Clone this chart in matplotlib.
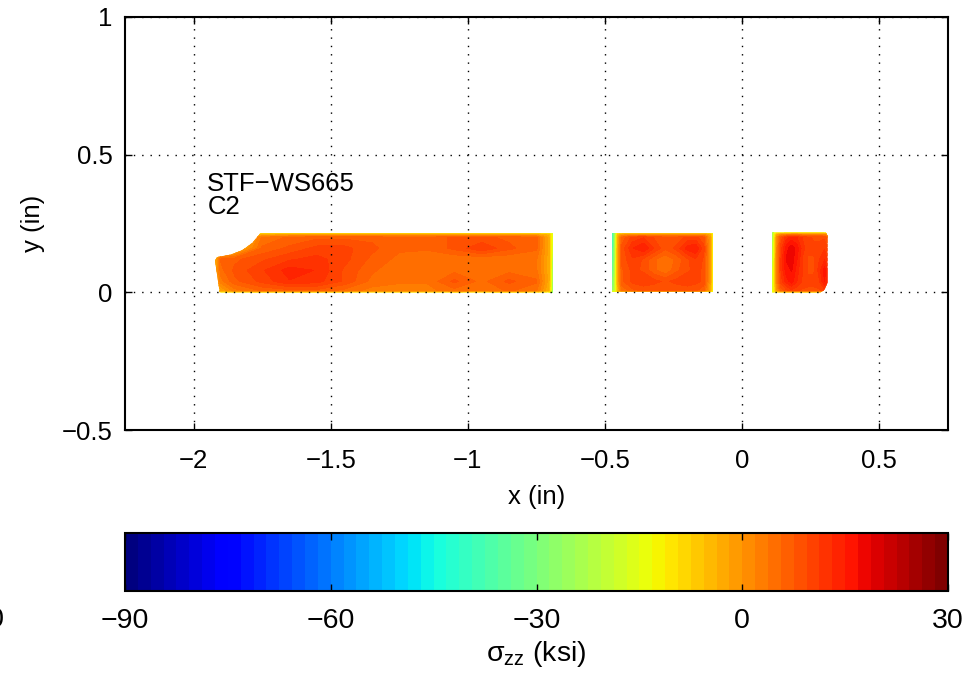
import numpy as np
import matplotlib
matplotlib.use("Agg")
import matplotlib.pyplot as plt
from matplotlib.patches import Polygon
from matplotlib.colors import Normalize
from matplotlib.cm import ScalarMappable

plt.rcParams['font.family'] = ['Liberation Sans', 'DejaVu Sans']
plt.rcParams['mathtext.fontset'] = 'custom'
plt.rcParams['mathtext.rm'] = 'Liberation Sans'
plt.rcParams['mathtext.it'] = 'Liberation Sans'

# ------------------------------------------------------------------
# DATOS (sigma_zz en ksi)
# ------------------------------------------------------------------
# bloque 1
bx1 = [-1.93, -1.90, -1.85, -1.75, -1.65, -1.55, -1.45, -1.35, -1.25,
       -1.15, -1.05, -0.95, -0.85, -0.75, -0.705, -0.695, -0.688]
by1 = [0.0, 0.007, 0.04, 0.08, 0.12, 0.16, 0.2, 0.208, 0.216]
s1 = [
    [-12, -12, -10, -10, -10, -10, -10, -10, -10, -10, -10, -10, -10, -10, -12, -20, -45],
    [-4, -2, 3, 6, 7, 7, 5, 3, 3, 3, 5, 4, 6, 4, -4, -18, -45],
    [-4, 3, 7, 10, 13, 12, 9, 5, 4, 4, 8, 5, 8, 6, -3, -16, -45],
    [-5, 5, 8, 11, 14, 13, 9, 6, 4, 4, 5, 4, 5, 4, -3, -16, -45],
    [-7, 6, 7, 9, 11, 12, 10, 7, 5, 4, 4, 4, 4, 4, -3, -15, -40],
    [-10, -10, -6, 6, 8, 10, 10, 8, 6, 6, 8, 11, 8, 6, -3, -15, -20],
    [-10, -10, -10, 4, 6, 7, 7, 7, 6, 6, 8, 8, 7, 6, -3, -14, -16],
    [-10, -10, -10, -2, -1, -1, -1, -1, -1, -1, -1, -1, -1, -1, -4, -14, -16],
    [-13, -13, -13, -13, -13, -13, -13, -13, -13, -13, -13, -13, -13, -13, -13, -15, -16],
]
outline1 = [(-1.905, 0.0), (-0.690, 0.0), (-0.690, 0.215), (-1.756, 0.215),
            (-1.786, 0.180), (-1.823, 0.153), (-1.865, 0.137), (-1.914, 0.128),
            (-1.922, 0.116)]

# bloque 2
bx2 = [-0.474, -0.465, -0.455, -0.44, -0.40, -0.36, -0.32, -0.28, -0.24,
       -0.20, -0.17, -0.14, -0.118, -0.108]
by2 = [0.0, 0.008, 0.04, 0.08, 0.12, 0.16, 0.2, 0.209, 0.217]
s2 = [
    [-15, -14, -12, -10, -10, -10, -10, -10, -10, -10, -10, -10, -12, -14],
    [-30, -22, -6, 4, 7, 8, 8, 8, 8, 8, 8, 6, -2, -12],
    [-32, -22, -4, 7, 10, 11, 10, 9, 10, 11, 10, 9, -1, -12],
    [-36, -24, -4, 7, 10, 9, 6, 4, 7, 9, 10, 9, -1, -12],
    [-38, -25, -4, 8, 11, 9, 6, 4, 6, 9, 11, 9, -1, -12],
    [-40, -26, -4, 8, 13, 15, 11, 8, 10, 14, 15, 10, -1, -12],
    [-42, -27, -5, 6, 10, 11, 9, 8, 8, 10, 10, 8, -1, -12],
    [-42, -27, -6, -1, 1, 1, 1, 1, 1, 1, 1, 1, -3, -12],
    [-42, -28, -14, -14, -14, -14, -14, -14, -14, -14, -14, -14, -14, -14],
]
outline2 = [(-0.474, 0.0), (-0.108, 0.0), (-0.108, 0.217), (-0.474, 0.217)]

# bloque 3
bx3 = [0.109, 0.116, 0.125, 0.14, 0.16, 0.18, 0.20, 0.22, 0.24, 0.26, 0.28, 0.30, 0.311]
by3 = [0.0, 0.008, 0.04, 0.08, 0.12, 0.16, 0.2, 0.209, 0.217]
s3 = [
    [-15, -12, -10, -8, -8, -8, -8, -8, -8, -8, -8, -8, -8],
    [-20, -12, -1, 6, 9, 11, 10, 9, 9, 9, 9, 11, 8],
    [-20, -12, 2, 10, 14, 16, 13, 11, 10, 10, 11, 15, 13],
    [-20, -12, 2, 11, 16, 17, 14, 11, 9, 9, 12, 16, 13],
    [-22, -13, 2, 11, 17, 18, 15, 11, 9, 9, 11, 13, 11],
    [-24, -14, 1, 10, 16, 18, 16, 12, 10, 10, 10, 11, 9],
    [-26, -15, 0, 8, 12, 14, 13, 11, 10, 9, 9, 9, 6],
    [-26, -16, -3, 1, 3, 4, 4, 3, 3, 3, 3, 2, -2],
    [-28, -16, -12, -12, -12, -12, -12, -12, -12, -12, -12, -12, -12],
]
outline3 = [(0.109, 0.0), (0.285, 0.0), (0.300, 0.010), (0.311, 0.035),
            (0.311, 0.205), (0.305, 0.217), (0.109, 0.217)]

blocks = [(bx1, by1, s1, outline1), (bx2, by2, s2, outline2), (bx3, by3, s3, outline3)]

xticks = [-2, -1.5, -1, -0.5, 0, 0.5]
yticks = [-0.5, 0, 0.5, 1]
cticks = [-90, -60, -30, 0, 30]

vmin, vmax = -90, 30


def fmt(v):
    return f"{v:g}".replace('-', '\u2212')


# ------------------------------------------------------------------
# FIGURA
# ------------------------------------------------------------------
fig = plt.figure(figsize=(9.71, 6.82), dpi=100)
ax = fig.add_axes([125 / 971, 1 - 430 / 682, 823 / 971, 413 / 682])

cmap = plt.get_cmap('jet', 64)
norm = Normalize(vmin, vmax)
levels = np.linspace(vmin, vmax, 129)

for bx, by, s, outline in blocks:
    cs = ax.contourf(bx, by, s, levels=levels, cmap=cmap, norm=norm, zorder=1)
    clip = Polygon(outline, closed=True, transform=ax.transData)
    cs.set_clip_path(clip)

ax.set_xlim(-2.25, 0.75)
ax.set_ylim(-0.5, 1)
ax.set_xticks(xticks)
ax.set_xticklabels([fmt(v) for v in xticks])
ax.set_yticks(yticks)
ax.set_yticklabels([fmt(v) for v in yticks])
ax.tick_params(direction='in', length=5, width=1, top=True, right=True,
               labelsize=18.5)
ax.tick_params(axis='x', pad=14)
ax.tick_params(axis='y', pad=9)
ax.grid(True, color='k', linestyle=(0, (1, 5)), linewidth=1)
ax.set_axisbelow(False)
for sp in ax.spines.values():
    sp.set_linewidth(1.5)

ax.set_xlabel('x (in)', fontsize=18.5, labelpad=8)
ax.set_ylabel('y (in)', fontsize=18.5, labelpad=12)
ax.text(-1.95, 0.35, 'STF\u2212WS665\nC2', fontsize=18.5, ha='left', va='center',
        linespacing=0.95)

# barra de color
cax = fig.add_axes([125 / 971, 1 - 591 / 682, 823 / 971, 58 / 682])
sm = ScalarMappable(norm=norm, cmap=cmap)
cb = fig.colorbar(sm, cax=cax, orientation='horizontal', ticks=cticks)
cb.ax.set_xticklabels([fmt(v) for v in cticks])
cb.ax.tick_params(direction='in', length=5, width=1, top=True, labelsize=20.5, pad=12)
cb.outline.set_linewidth(1.5)
cb.set_label(r'$\mathrm{\sigma_{zz}}$ (ksi)', fontsize=20.5, labelpad=4)
# etiqueta -120 recortada por el borde de la figura
fig.text(5 / 971, 1 - 620 / 682, '\u2212120', fontsize=20.5, ha='right', va='center')

fig.savefig('out.png', dpi=100)
